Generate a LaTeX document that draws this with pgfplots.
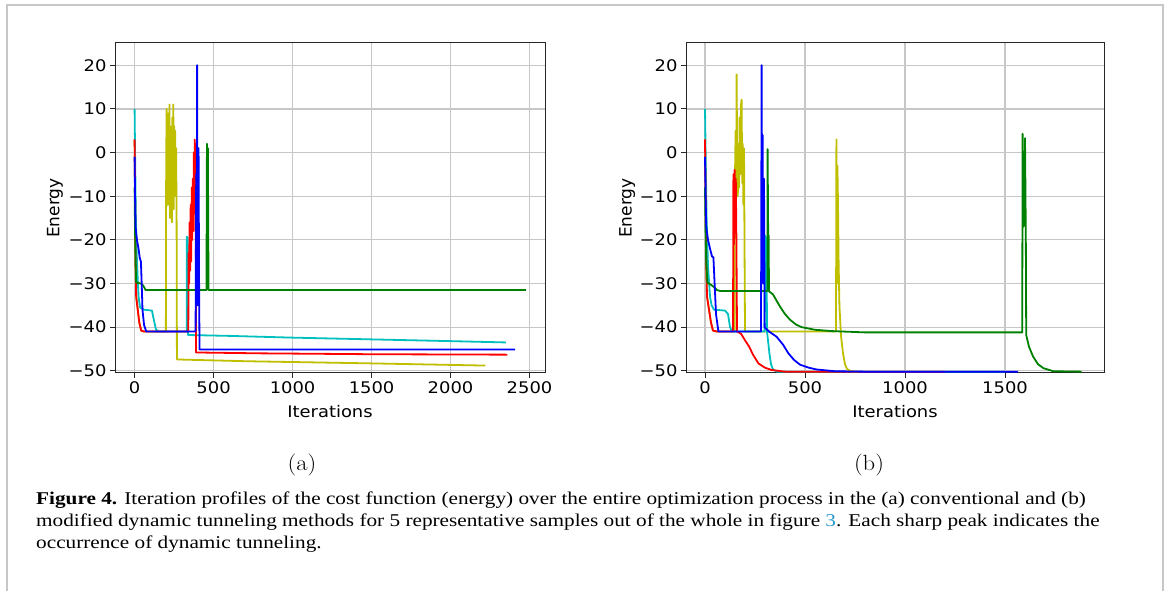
\documentclass[border=0pt]{standalone}
\usepackage{fontspec}
\usepackage{graphicx}
\usepackage{pgfplots}
\pgfplotsset{compat=1.18}
\newfontfamily\dejavu{DejaVu Sans}
\newfontfamily\dejavuS[FakeStretch=1.12]{DejaVu Sans}
\newfontfamily\capfont[FakeStretch=1.18]{Liberation Serif}
\definecolor{mr}{rgb}{1,0,0}
\definecolor{mg}{rgb}{0,0.5,0}
\definecolor{mb}{rgb}{0,0,1}
\definecolor{mc}{rgb}{0,0.75,0.75}
\definecolor{my}{rgb}{0.75,0.75,0}
\definecolor{linkc}{rgb}{0.15,0.6,0.8}
\pgfplotsset{myax/.style={
  scale only axis, height=330bp, ymin=-50.5, ymax=25.1,
  axis line style={black!85,line width=1bp},
  tick align=outside, tick pos=left, major tick length=5bp,
  every tick/.style={black!85,line width=1bp},
  grid=major, grid style={black!22,line width=1.2bp},
  ytick={-50,-40,...,20},
  yticklabels={−50,−40,−30,−20,−10,0,10,20},
  tick label style={font=\dejavuS\fontsize{16bp}{18bp}\selectfont},
  xlabel style={font=\dejavuS\fontsize{16bp}{18bp}\selectfont},
  ylabel style={font=\dejavu\fontsize{17bp}{19bp}\selectfont},
  xlabel=Iterations, ylabel=Energy,
  xlabel style={at={(axis description cs:0.5,-0.118)},anchor=center},
  every axis plot/.append style={line width=1.8bp, no marks, line join=round},
}}
\begin{document}
\begin{tikzpicture}[x=1bp,y=1bp]
\useasboundingbox (0,0) rectangle (1167,591);
\draw[black!22, line width=2bp] (7,-5) -- (7,586) -- (1163,586) -- (1163,-5);
% ---------------- (a)
\begin{axis}[myax, at={(115bp,218bp)}, anchor=south west, width=430bp,
  xmin=-124, xmax=2598, xtick={0,500,...,2500},
  xticklabels={0,500,1000,1500,2000,2500},
  ylabel style={at={(axis description cs:-0.1395,0.5)},anchor=center}]
\addplot[my] coordinates {(0,3) (3,-10) (6,-25) (10,-33) (20,-36) (30,-39) (42,-40.8) (60,-41) (198,-41) (200,-2) (203,10) (206,-10) (209,5) (212,-12) (215,9) (218,-3) (221,11) (224,-15) (227,6) (230,-8) (233,3) (236,-16) (239,8) (242,-5) (245,11) (248,-13) (251,6) (254,-6) (257,5) (260,-10) (263,1) (266,-16) (268,-47.4) (700,-47.8) (1500,-48.3) (2220,-48.8)};
\addplot[mc] coordinates {(0,10) (3,0) (8,-15) (15,-25) (25,-33) (35,-35.5) (60,-36) (110,-36.2) (120,-38) (135,-40.5) (150,-41) (330,-41) (331,-19.3) (336,-19.5) (338,-41.8) (600,-42) (1000,-42.4) (1500,-42.8) (2000,-43.2) (2350,-43.5)};
\addplot[mr] coordinates {(0,3) (3,-10) (6,-25) (10,-33) (20,-36) (30,-39) (42,-40.8) (60,-41) (340,-41) (342,-23) (345,-30) (348,-16) (352,-27) (355,-12) (358,-25) (362,-8) (365,-20) (368,-6) (372,-18) (375,0) (378,-14) (381,3) (384,-10) (387,2) (389,-45.8) (800,-46) (1500,-46.2) (2360,-46.3)};
\addplot[mg] coordinates {(0,-8) (3,-18) (6,-25) (10,-29.8) (40,-30) (55,-30.5) (70,-31.5) (455,-31.5) (458,2) (461,-25) (464,1) (468,-31.5) (2479,-31.5)};
\addplot[mb] coordinates {(0,-1) (3,-10) (6,-17) (15,-20) (25,-22) (32,-24) (40,-25) (45,-30) (50,-36) (60,-39.5) (74,-41) (386,-41) (390,-5) (393,-25) (396,20) (399,-35) (402,-20) (405,1) (408,-28) (411,-45.1) (2409,-45.1)};
\end{axis}
% ---------------- (b)
\begin{axis}[myax, at={(686bp,218bp)}, anchor=south west, width=418bp,
  xmin=-95, xmax=1995, xtick={0,500,...,2000},
  xticklabels={0,500,1000,1500,2000},
  ylabel style={at={(axis description cs:-0.141,0.5)},anchor=center}]
\addplot[my] coordinates {(0,3) (3,-10) (6,-25) (10,-33) (20,-36) (30,-39) (40,-40.8) (60,-41) (148,-41) (150,-5) (153,5) (156,-8) (158,17.9) (161,-3) (164,-10) (167,2) (170,-8) (173,8) (176,-5) (180,11) (183,12.1) (186,-7) (189,2) (192,-12) (195,1) (198,-25) (200,-41) (655,-41) (657,3) (660,-30) (662,-3) (665,-12) (668,-25) (672,-35) (680,-42) (690,-46) (700,-48.5) (710,-49.6) (730,-50.1) (760,-50.2)};
\addplot[mc] coordinates {(0,10) (3,0) (8,-15) (15,-26) (25,-33) (33,-35) (45,-36) (100,-36.2) (115,-37) (125,-40) (135,-41) (298,-41) (300,-19) (305,-19.5) (308,-25) (310,-41) (315,-43) (322,-46) (330,-48.5) (340,-49.7) (360,-50.2) (1500,-50.2)};
\addplot[mr] coordinates {(0,3) (3,-10) (6,-25) (10,-33) (20,-36) (30,-39) (40,-40.8) (60,-41) (140,-41) (142,-5) (145,-21) (148,-4) (151,-18) (154,-6) (157,-20) (160,-41) (180,-41.5) (200,-43) (221,-44.5) (240,-46.3) (267,-48.3) (300,-49.3) (333,-49.8) (400,-50.2) (1200,-50.2)};
\addplot[mg] coordinates {(0,-8) (3,-18) (6,-25) (12,-29.8) (30,-30.3) (45,-30.8) (60,-31.5) (75,-31.7) (312,-31.7) (313,0.8) (316,-20) (318,-19) (320,-31.8) (340,-32.5) (375,-35.3) (400,-37) (425,-38.3) (455,-39.4) (483,-40) (550,-40.6) (633,-40.9) (800,-41.2) (1586,-41.2) (1588,4.3) (1592,-17) (1596,-16) (1600,3.3) (1604,-19) (1606,-41.8) (1620,-44.5) (1640,-46.7) (1665,-48.5) (1692,-49.4) (1742,-50.1) (1883,-50.2)};
\addplot[mb] coordinates {(0,-1) (3,-10) (6,-17) (15,-20) (25,-22) (35,-23.8) (42,-24) (48,-30) (55,-37) (67,-41) (280,-41) (283,20) (286,-20) (288,4) (291,-30) (295,-6) (298,-40) (320,-41) (358,-42.2) (390,-44) (417,-46) (445,-47.5) (475,-48.6) (520,-49.3) (558,-49.7) (650,-50.1) (800,-50.2) (1566,-50.2)};
\end{axis}
% ---------------- labels and caption
\node[font=\fontsize{22bp}{26bp}\selectfont, inner sep=0] at (302bp,126bp) {\scalebox{1.12}[1]{(a)}};
\node[font=\fontsize{22bp}{26bp}\selectfont, inner sep=0] at (869bp,126bp) {\scalebox{1.12}[1]{(b)}};
\begin{scope}[every node/.style={anchor=base west, inner sep=0, font=\capfont\fontsize{18bp}{21.5bp}\selectfont}]
\node at (36bp,86bp) {\textbf{Figure 4.} Iteration profiles of the cost function (energy) over the entire optimization process in the (a) conventional and (b)};
\node at (36bp,64bp) {modified dynamic tunneling methods for 5 representative samples out of the whole in figure \textcolor{linkc}{3}. Each sharp peak indicates the};
\node at (36bp,42bp) {occurrence of dynamic tunneling.};
\end{scope}
\end{tikzpicture}
\end{document}
